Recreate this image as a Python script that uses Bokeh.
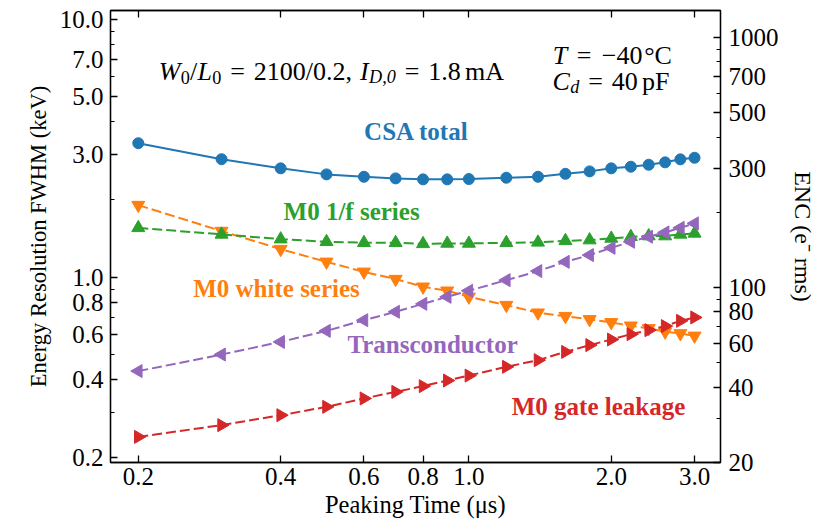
from bokeh.plotting import figure
from bokeh.models import (Range1d, LogScale, LogAxis, FixedTicker, PrintfTickFormatter,
                          Label, CustomLabelingPolicy)
from bokeh.embed import file_html
from bokeh.resources import INLINE

FONT = "Liberation Serif"

# Peaking times (us) and noise contributions, FWHM in keV
peaking_time = [0.2, 0.3, 0.4, 0.5, 0.6, 0.7, 0.8, 0.9, 1.0, 1.2, 1.4, 1.6, 1.8,
                2.0, 2.2, 2.4, 2.6, 2.8, 3.0]
csa_total = [3.31, 2.87, 2.645, 2.506, 2.453, 2.418, 2.397, 2.397, 2.404, 2.432,
             2.453, 2.519, 2.574, 2.645, 2.683, 2.731, 2.790, 2.866, 2.907]
white_series = [1.905, 1.511, 1.286, 1.148, 1.050, 0.984, 0.919, 0.887, 0.840,
                0.780, 0.729, 0.707, 0.687, 0.669, 0.649, 0.634, 0.615, 0.606, 0.593]
flicker_series = [1.555, 1.467, 1.406, 1.373, 1.361, 1.361, 1.348, 1.353, 1.353,
                  1.361, 1.366, 1.385, 1.394, 1.415, 1.436, 1.445, 1.445, 1.467, 1.480]
transconductor = [0.433, 0.502, 0.562, 0.620, 0.682, 0.735, 0.789, 0.840, 0.887,
                  0.975, 1.057, 1.148, 1.219, 1.301, 1.373, 1.436, 1.493, 1.555, 1.618]
gate_leakage = [0.2407, 0.2673, 0.2921, 0.3147, 0.3392, 0.3597, 0.3786, 0.398, 0.416,
                0.4498, 0.4775, 0.514, 0.546, 0.574, 0.602, 0.624, 0.647, 0.678, 0.699]

# Tick positions
x_ticks = [0.2, 0.4, 0.6, 0.8, 1.0, 2.0, 3.0]
fwhm_ticks = [0.2, 0.4, 0.6, 0.8, 1.0, 3.0, 5.0, 7.0, 10.0]
fwhm_minor = [0.3, 0.5, 0.7, 0.9, 2.0, 4.0, 6.0, 8.0, 9.0]
enc_ticks = [20, 40, 60, 80, 100, 300, 500, 700, 1000]
enc_minor = [30, 50, 70, 90, 200, 400, 600, 800, 900]

BLUE, ORANGE, GREEN, RED, PURPLE = "#1f77b4", "#ff7f0e", "#2ca02c", "#d62728", "#9467bd"

p = figure(width=823, height=525, x_axis_type="log", y_axis_type="log",
           x_range=Range1d(0.1747, 3.404), y_range=Range1d(0.1915, 10.82),
           output_backend="svg", toolbar_location=None,
           min_border_left=110, min_border_right=103,
           min_border_top=10, min_border_bottom=63)
p.extra_y_ranges = {"enc": Range1d(19.95, 1285)}
p.extra_y_scales = {"enc": LogScale()}
p.grid.visible = False
p.background_fill_color = "white"
p.border_fill_color = "white"
p.outline_line_color = "black"
p.outline_line_width = 1.3


def style_axis(ax):
    ax.axis_line_color = "black"
    ax.axis_line_width = 1.3
    ax.major_tick_line_color = "black"
    ax.major_tick_line_width = 1.3
    ax.minor_tick_line_color = "black"
    ax.minor_tick_line_width = 1.0
    ax.major_tick_in = 7
    ax.major_tick_out = 0
    ax.minor_tick_in = 4
    ax.minor_tick_out = 0
    ax.major_label_text_font = FONT
    ax.major_label_text_font_size = "25px"
    ax.major_label_text_color = "black"
    ax.axis_label_text_font = FONT
    ax.axis_label_text_font_style = "normal"
    ax.axis_label_text_font_size = "24px"
    ax.axis_label_text_color = "black"


xax = p.xaxis[0]
style_axis(xax)
xax.ticker = FixedTicker(ticks=x_ticks, minor_ticks=[])
xax.formatter = PrintfTickFormatter(format="%.1f")
xax.major_label_standoff = 5
xax.axis_label = "Peaking Time (μs)"
xax.axis_label_text_font_size = "24.5px"
xax.axis_label_standoff = 3

yax = p.yaxis[0]
style_axis(yax)
yax.ticker = FixedTicker(ticks=fwhm_ticks, minor_ticks=fwhm_minor)
yax.formatter = PrintfTickFormatter(format="%.1f")
yax.major_label_standoff = 7
yax.axis_label = "Energy Resolution FWHM (keV)"
yax.axis_label_text_font_size = "22.5px"
yax.axis_label_standoff = 6

# Mirrored tick marks along the top edge, without labels
top = LogAxis()
style_axis(top)
top.ticker = FixedTicker(ticks=x_ticks, minor_ticks=[])
top.major_label_standoff = 0
top.major_label_text_font_size = "0px"
top.major_label_policy = CustomLabelingPolicy(code="""
    const n = indices.size
    for (let i = 0; i < n; i++)
        indices.unset(i)
    return indices
""")
p.add_layout(top, "above")

right = LogAxis(y_range_name="enc")
style_axis(right)
right.ticker = FixedTicker(ticks=enc_ticks, minor_ticks=enc_minor)
right.formatter = PrintfTickFormatter(format="%d")
right.major_label_standoff = 8
right.axis_label = "ENC (e⁻ rms)"
right.axis_label_standoff = 8
p.add_layout(right, "right")

# Noise curves
p.line(peaking_time, csa_total, color=BLUE, line_width=2)
p.scatter(peaking_time, csa_total, marker="circle", size=11, color=BLUE)

dash = "10 4"
p.line(peaking_time, white_series, color=ORANGE, line_width=2, line_dash=dash)
p.scatter(peaking_time, white_series, marker="inverted_triangle", size=13, color=ORANGE)

p.line(peaking_time, flicker_series, color=GREEN, line_width=2, line_dash=dash)
p.scatter(peaking_time, flicker_series, marker="triangle", size=13, color=GREEN)

p.line(peaking_time, transconductor, color=PURPLE, line_width=2, line_dash=dash)
p.scatter(peaking_time, transconductor, marker="triangle", size=13, color=PURPLE,
          angle=1.5708)

p.line(peaking_time, gate_leakage, color=RED, line_width=2, line_dash=dash)
p.scatter(peaking_time, gate_leakage, marker="triangle", size=13, color=RED,
          angle=-1.5708)

# Curve names
for text, x, y, color in [("CSA total", 0.775, 3.666, BLUE),
                          ("M0 1/f series", 0.565, 1.806, GREEN),
                          ("M0 white series", 0.392, 0.906, ORANGE),
                          ("Transconductor", 0.838, 0.5508, PURPLE),
                          ("M0 gate leakage", 1.88, 0.3168, RED)]:
    p.add_layout(Label(x=x, y=y, text=text, text_color=color, text_font=FONT,
                       text_font_style="bold", text_font_size="25px",
                       text_align="center", text_baseline="middle"))


def formula(x, y, runs, size):
    """Lay out a formula as consecutive text runs, each centred in its advance."""
    offset = 0.0
    for text, style, adv, sub in runs:
        w = adv * size
        if text:
            fs = size * 0.7 if sub else size
            p.add_layout(Label(x=x, y=y, x_offset=offset + w / 2,
                               y_offset=-0.22 * size if sub else 0,
                               text=text, text_font=FONT, text_font_style=style,
                               text_font_size=f"{fs:.1f}px", text_color="black",
                               text_align="center", text_baseline="alphabetic"))
        offset += w


S = 26
formula(0.2206, 6.264, [
    ("W", "italic", 0.86, False), ("0", "normal", 0.35, True),
    ("/", "normal", 0.28, False), ("L", "italic", 0.58, False),
    ("0", "normal", 0.35, True), ("=", "normal", 1.242, False),
    ("2100/0.2,", "normal", 3.78, False), ("", "normal", 0.3, False),
    ("I", "italic", 0.36, False), ("D,0", "italic", 1.03, True),
    ("=", "normal", 1.242, False), ("1.8", "normal", 1.25, False),
    ("", "normal", 0.167, False), ("mA", "normal", 1.5, False)], S)

formula(1.501, 7.27, [
    ("T", "italic", 0.6, False), ("=", "normal", 1.242, False),
    ("−40", "normal", 1.69, False), ("°C", "normal", 1.07, False)], S)

formula(1.501, 5.728, [
    ("C", "italic", 0.69, False), ("d", "italic", 0.35, True),
    ("=", "normal", 1.242, False), ("40", "normal", 1.0, False),
    ("", "normal", 0.167, False), ("pF", "normal", 1.06, False)], S)

open("out.html", "w").write(file_html(p, INLINE))
